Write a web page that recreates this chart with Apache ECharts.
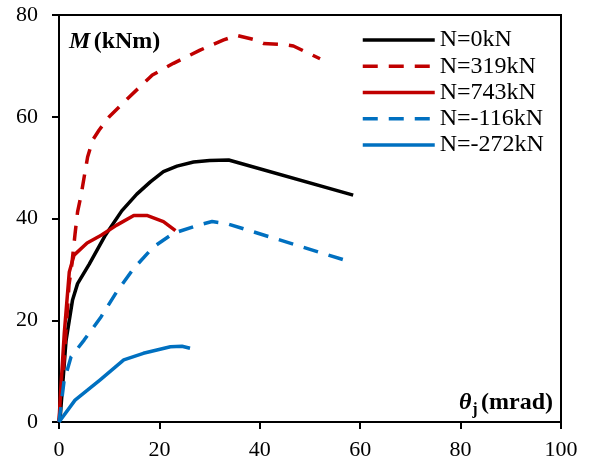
<!DOCTYPE html>
<html>
<head>
<meta charset="utf-8">
<script src="https://cdn.jsdelivr.net/npm/echarts@6/dist/echarts.min.js"></script>
<style>
html,body{margin:0;padding:0;background:#fff;}
#chart{width:590px;height:467px;}
</style>
</head>
<body>
<div id="chart"></div>
<script>
// ---- data (theta_j in mrad, M in kNm) ----
var xTicks = [0, 20, 40, 60, 80, 100];
var yTicks = [0, 20, 40, 60, 80];
var seriesNames = ['N=0kN', 'N=319kN', 'N=743kN', 'N=-116kN', 'N=-272kN'];

var n0 = [[0,0],[0.3,1.7],[1.4,16],[2.7,24],[3.7,27.2],[6,31],[9.1,36.5],[12.5,41.5],[15.5,44.8],[18.2,47.2],[20.8,49.2],[23.5,50.3],[26.8,51.1],[30,51.4],[33.8,51.5],[58.6,44.6]];
var n319 = [[0,0],[1,12],[2,27],[2.5,30.5],[3.2,37],[3.7,41.3],[4.4,44.6],[5.7,52.1],[6.7,55.4],[8,57.4],[10,60],[14,63.9],[18.6,68.2],[22.8,70.5],[28.1,73.1],[32.8,75.1],[35.4,76],[38.7,75.2],[40.7,74.4],[44.7,74.2],[46.7,73.9],[52,71.4]];
var n743 = [[0,0],[0.3,5.6],[1.05,17.4],[2.05,29.5],[3,32.8],[5.6,35.2],[8.4,36.7],[11.5,38.7],[14.9,40.6],[17.5,40.6],[20.8,39.4],[23.2,37.6]];
var nm116 = [[0,0],[1,8],[2.4,12.8],[5,16.1],[8.4,20.7],[11.5,25.6],[14.9,30.2],[18.8,34.4],[22.8,37.1],[27.8,38.7],[30.5,39.4],[33.4,39],[58,31.5]];
var nm272 = [[0,0],[3.2,4.3],[8.2,8.3],[12.9,12.2],[16.8,13.5],[22.2,14.8],[24.5,14.9],[26.1,14.5]];

var FONT = 'Liberation Serif';
var BLACK = '#000000', RED = '#C00000', BLUE = '#0070C0';
var DASH = [15, 11];

var chart = echarts.init(document.getElementById('chart'), null, {renderer: 'canvas'});

function mk(name, data, color, dashed) {
  return {
    name: name, type: 'line', data: data, symbol: 'none', showSymbol: false,
    smooth: false, animation: false,
    lineStyle: {color: color, width: 3.5, type: dashed ? DASH : 'solid', cap: 'butt', join: 'round'},
    itemStyle: {color: color}
  };
}

chart.setOption({
  animation: false,
  backgroundColor: '#fff',
  grid: {left: 59, right: 29, top: 15, bottom: 45, outerBoundsMode: 'none', containLabel: false,
         show: true, borderColor: '#000', borderWidth: 2, backgroundColor: 'transparent'},
  xAxis: {
    type: 'value', min: xTicks[0], max: xTicks[xTicks.length-1], interval: 20,
    axisLine: {show: true, onZero: false, lineStyle: {color: '#000', width: 2}},
    axisTick: {show: true, inside: false, length: 7, lineStyle: {color: '#000', width: 2}},
    axisLabel: {color: '#000', fontFamily: FONT, fontSize: 22, margin: 17},
    splitLine: {show: false}
  },
  yAxis: {
    type: 'value', min: yTicks[0], max: yTicks[yTicks.length-1], interval: 20,
    axisLine: {show: true, onZero: false, lineStyle: {color: '#000', width: 2}},
    axisTick: {show: true, inside: false, length: 7, lineStyle: {color: '#000', width: 2}},
    axisLabel: {color: '#000', fontFamily: FONT, fontSize: 22, margin: 21},
    splitLine: {show: false}
  },
  legend: {
    orient: 'vertical', left: 361, top: 28, padding: 0,
    itemWidth: 72, itemHeight: 14, itemGap: 2.25,
    itemStyle: {opacity: 0},
    lineStyle: {width: 3.5},
    textStyle: {color: '#000', fontFamily: FONT, fontSize: 24},
    data: seriesNames
  },
  graphic: [
    {
      type: 'text', left: 69, top: 30, silent: true,
      style: {
        text: '{i|M} {b|(kNm)}',
        rich: {
          i: {fontFamily: FONT, fontSize: 24, fontStyle: 'italic', fontWeight: 'bold', fill: '#000'},
          b: {fontFamily: FONT, fontSize: 24, fontWeight: 'bold', fill: '#000'}
        }
      }
    },
    {
      type: 'text', right: 37, top: 391, silent: true,
      style: {
        text: '{i|θ}{s|j} {b|(mrad)}',
        rich: {
          i: {fontFamily: FONT, fontSize: 24, fontStyle: 'italic', fontWeight: 'bold', fill: '#000'},
          s: {fontFamily: FONT, fontSize: 16, fontWeight: 'bold', fill: '#000', padding: [13, 0, 0, 1]},
          b: {fontFamily: FONT, fontSize: 24, fontWeight: 'bold', fill: '#000'}
        }
      }
    }
  ],
  series: [
    mk(seriesNames[0], n0, BLACK, false),
    mk(seriesNames[1], n319, RED, true),
    mk(seriesNames[2], n743, RED, false),
    mk(seriesNames[3], nm116, BLUE, true),
    mk(seriesNames[4], nm272, BLUE, false)
  ]
});
</script>
</body>
</html>
